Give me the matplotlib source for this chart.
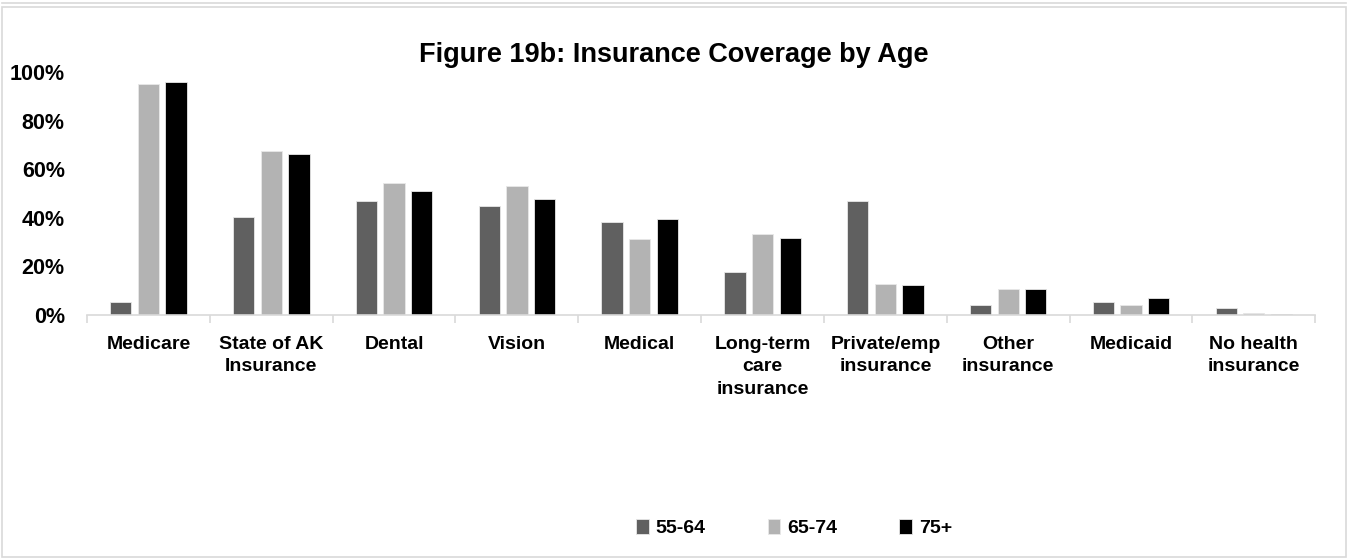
import numpy as np
import matplotlib.pyplot as plt
from matplotlib.patches import Rectangle
from matplotlib.lines import Line2D
from matplotlib.ticker import FixedLocator

plt.rcParams['font.family'] = ['Liberation Sans', 'DejaVu Sans']
plt.rcParams['font.weight'] = 'bold'

categories = ['Medicare', 'State of AK\nInsurance', 'Dental', 'Vision', 'Medical',
              'Long-term\ncare\ninsurance', 'Private/emp\ninsurance', 'Other\ninsurance',
              'Medicaid', 'No health\ninsurance']
age_55_64 = [5.3, 40.3, 46.9, 44.9, 38.1, 17.7, 47.0, 4.0, 5.3, 2.9]
age_65_74 = [95.0, 67.6, 54.5, 53.2, 31.4, 33.5, 12.8, 10.6, 4.0, 0.8]
age_75_plus = [96.0, 66.4, 51.0, 47.7, 39.4, 31.8, 12.5, 10.8, 7.0, 0.3]
series_names = ['55-64', '65-74', '75+']
colors = ['#606060', '#b3b3b3', '#000000']

fig = plt.figure(figsize=(13.49, 5.59), dpi=100)
ax = fig.add_axes([0.0645, 0.4365, 0.9105, 0.4347])

x = np.arange(len(categories))
step = 0.225
width = 0.173
for i, (vals, name, c) in enumerate(zip([age_55_64, age_65_74, age_75_plus], series_names, colors)):
    ax.bar(x + (i - 1) * step, vals, width, color=c, label=name,
           edgecolor='#e8e8e8', linewidth=0.6)

ax.set_xlim(-0.5, len(categories) - 0.5)
ax.set_ylim(0, 100)
ax.set_yticks([0, 20, 40, 60, 80, 100])
ax.set_yticklabels(['0%', '20%', '40%', '60%', '80%', '100%'], fontsize=15.5)
ax.tick_params(axis='y', length=0, pad=16)

ax.set_xticks(x)
ax.set_xticklabels(categories, fontsize=14, linespacing=1.42, va='top')
ax.tick_params(axis='x', which='major', length=0, pad=15)
ax.xaxis.set_minor_locator(FixedLocator(np.arange(-0.5, len(categories), 1.0)))
ax.tick_params(axis='x', which='minor', length=6, color='#d9d9d9', width=1.2)

for s in ['top', 'right', 'left']:
    ax.spines[s].set_visible(False)
ax.spines['bottom'].set_color('#d9d9d9')
ax.spines['bottom'].set_linewidth(1.2)

ax.set_title('Figure 19b: Insurance Coverage by Age', fontsize=19.5, fontweight='bold',
             pad=7, x=0.478)

fig.legend(loc='center', bbox_to_anchor=(0.5886, 0.055), ncol=3, frameon=False,
           fontsize=14, handlelength=0.65, handleheight=0.8, handletextpad=0.35,
           columnspacing=3.2)

fig.patches.append(Rectangle((0.0015, 0.003), 0.996, 0.984, transform=fig.transFigure,
                             fill=False, edgecolor='#d9d9d9', linewidth=1.2))
fig.lines.append(Line2D([0.0015, 0.9975], [0.995, 0.995], transform=fig.transFigure,
                        color='#d9d9d9', linewidth=1.2))

fig.savefig('out.png', dpi=100)
